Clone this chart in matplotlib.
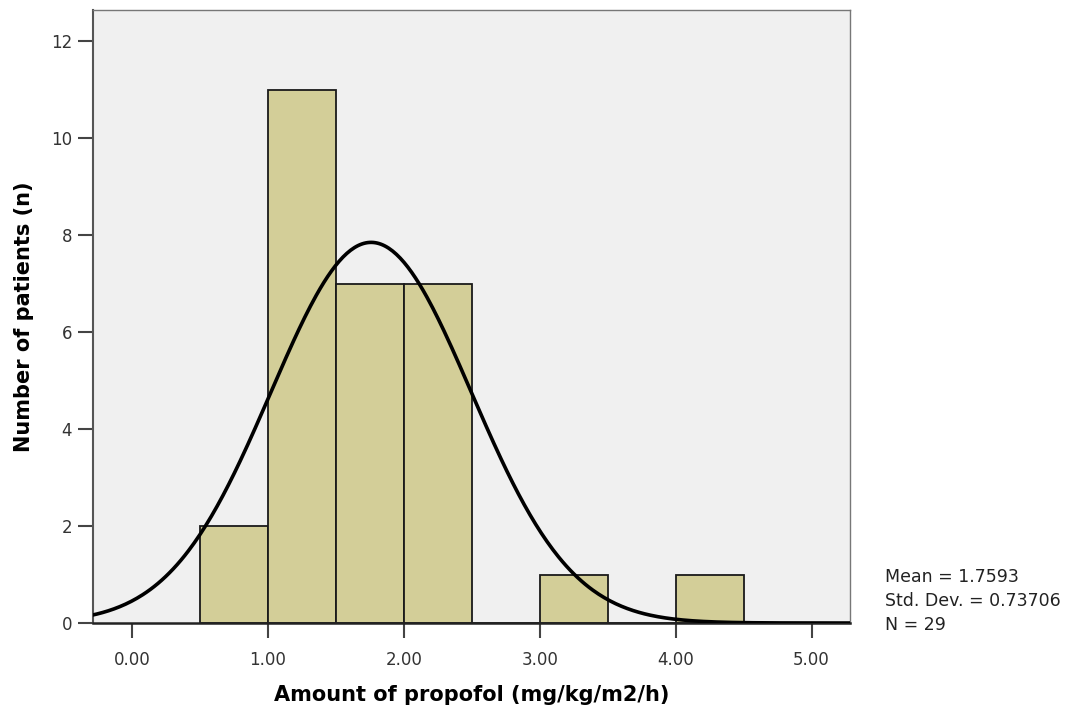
import numpy as np
import matplotlib.pyplot as plt

# Histogram data
bin_edges = [0.5, 1.0, 1.5, 2.0, 2.5, 3.0, 3.5, 4.0, 4.5]
counts = [2, 11, 7, 7, 0, 1, 0, 1]
mean = 1.7593
std = 0.73706
n = 29

x_ticks = [0, 1, 2, 3, 4, 5]
x_tick_labels = ["0.00", "1.00", "2.00", "3.00", "4.00", "5.00"]
y_ticks = [0, 2, 4, 6, 8, 10, 12]

fig = plt.figure(figsize=(10.71, 7.13), dpi=100)
ax = fig.add_axes([0.0868, 0.1262, 0.7069, 0.8598])
ax.set_facecolor("#F0F0F0")

widths = np.diff(bin_edges)
ax.bar(bin_edges[:-1], counts, width=widths, align="edge",
       color="#D3CE98", edgecolor="#1a1a1a", linewidth=1.3, zorder=2)

# Normal curve scaled to counts
bw = bin_edges[1] - bin_edges[0]
xs = np.linspace(-0.3, 5.3, 400)
ys = n * bw * np.exp(-0.5 * ((xs - mean) / std) ** 2) / (std * np.sqrt(2 * np.pi))
ax.plot(xs, ys, color="black", linewidth=2.6, zorder=3)

ax.set_xlim(-0.287, 5.283)
ax.set_ylim(0, 12.64)
ax.set_xticks(x_ticks)
ax.set_xticklabels(x_tick_labels)
ax.set_yticks(y_ticks)
ax.tick_params(axis="both", colors="#444444", labelcolor="#333333",
               labelsize=12, length=11, width=1.5, direction="out", pad=4)
ax.tick_params(axis="x", pad=9)

for side in ["top", "right"]:
    ax.spines[side].set_color("#777777")
    ax.spines[side].set_linewidth(1.0)
ax.spines["left"].set_color("#555555")
ax.spines["left"].set_linewidth(1.5)
ax.spines["bottom"].set_color("#222222")
ax.spines["bottom"].set_linewidth(1.8)

ax.set_xlabel("Amount of propofol (mg/kg/m2/h)", fontsize=15,
              fontweight="bold", labelpad=12)
ax.set_ylabel("Number of patients (n)", fontsize=15,
              fontweight="bold", labelpad=12)

fig.text(0.826, 0.157, "Mean = 1.7593\nStd. Dev. = 0.73706\nN = 29",
         fontsize=12.5, color="#222222", va="center", linespacing=1.45)

fig.savefig("out.png", dpi=100)
